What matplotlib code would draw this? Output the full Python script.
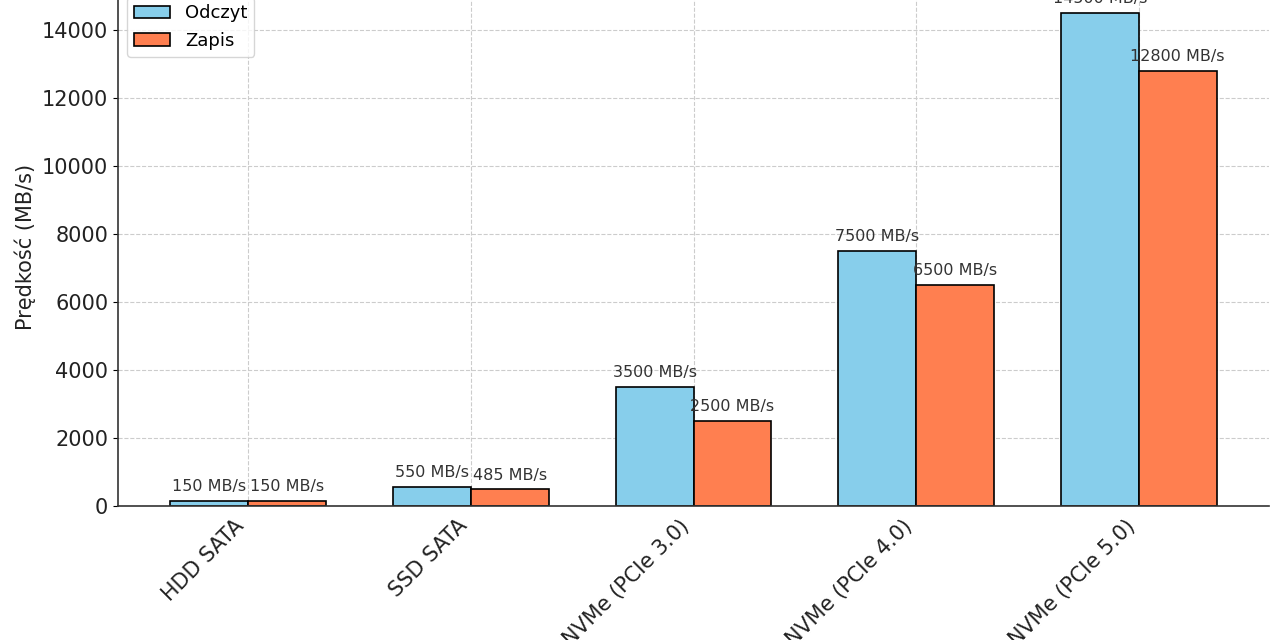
import numpy as np
import matplotlib.pyplot as plt

# Dane: prędkości dysków
kategorie = ["HDD SATA", "SSD SATA", "NVMe (PCIe 3.0)", "NVMe (PCIe 4.0)", "NVMe (PCIe 5.0)"]
odczyt = [150, 550, 3500, 7500, 14500]
zapis = [150, 485, 2500, 6500, 12800]

x = np.arange(len(kategorie))
width = 0.35

fig = plt.figure(figsize=(12.8, 6.4), dpi=100)
ax = fig.add_axes([0.0922, 0.2094, 0.8992, 0.809])

bars1 = ax.bar(x - width / 2, odczyt, width, label="Odczyt", color="skyblue",
               edgecolor="black", linewidth=1.2)
bars2 = ax.bar(x + width / 2, zapis, width, label="Zapis", color="coral",
               edgecolor="black", linewidth=1.2)

# Etykiety nad słupkami
for bars in (bars1, bars2):
    for bar in bars:
        h = bar.get_height()
        ax.text(bar.get_x() + bar.get_width() / 2, h + 200, f"{h} MB/s",
                ha="center", va="bottom", fontsize=11.5, color="#333333")

ax.set_ylabel("Prędkość (MB/s)", fontsize=15, color="#222222")
ax.set_xticks(x)
ax.set_xticklabels(kategorie, rotation=45, ha="right", fontsize=15, color="#222222")
ax.tick_params(axis="x", length=0, pad=7)
ax.tick_params(axis="y", labelsize=15, labelcolor="#222222")
ax.set_ylim(0, 15225)

ax.spines["top"].set_visible(False)
ax.spines["right"].set_visible(False)
for s in ("left", "bottom"):
    ax.spines[s].set_color("#333333")
    ax.spines[s].set_linewidth(1.2)

ax.set_axisbelow(True)
ax.grid(True, linestyle="--", color="#cccccc", linewidth=0.8)
ax.legend(loc="upper left", fontsize=13)

plt.savefig("out.png", dpi=100)
